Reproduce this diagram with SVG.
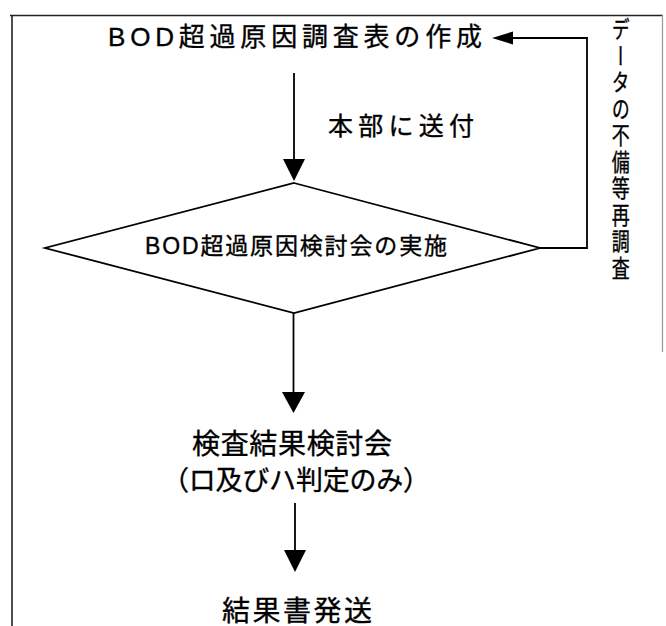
<svg xmlns="http://www.w3.org/2000/svg" width="666" height="626" viewBox="0 0 666 626">
<style>
  text { font-family: "Liberation Sans", "Noto Sans CJK JP", sans-serif; fill: #000; stroke: #000; stroke-width: 0.35; }
  .ln { stroke: #000; stroke-width: 1.8; fill: none; }
  .ah { fill: #000; stroke: none; }
  .frame { stroke: #222; stroke-width: 1.6; fill: none; }
</style>
<rect width="666" height="626" fill="#fff"/>
<g id="frame">
  <line class="frame" x1="10" y1="15.5" x2="663" y2="15.5"/>
  <line class="frame" x1="12" y1="15" x2="12" y2="626"/>
  <line x1="662.5" y1="15" x2="662.5" y2="352" stroke="#999" stroke-width="1.2"/>
</g>
<g id="connectors">
  <line class="ln" x1="294" y1="73" x2="294" y2="160"/>
  <polygon class="ah" points="283,159 305,159 294,181"/>
  <polyline class="ln" points="540,248 587,248 587,38 512,38"/>
  <polygon class="ah" points="513,31.5 513,44.5 492,38"/>
  <line class="ln" x1="293.5" y1="313" x2="293.5" y2="393"/>
  <polygon class="ah" points="282,392 305,392 293.5,413"/>
  <line class="ln" x1="295" y1="503" x2="295" y2="551"/>
  <polygon class="ah" points="284,550 306,550 295,572"/>
</g>
<g id="node-create">
  <text x="108" y="46" font-size="26" textLength="374" lengthAdjust="spacing">BOD超過原因調査表の作成</text>
</g>
<g id="label-send">
  <text x="328" y="135" font-size="25" textLength="146" lengthAdjust="spacing">本部に送付</text>
</g>
<g id="node-review">
  <polygon class="ln" points="294,183 540,248 294,313 45,248"/>
  <text x="145" y="254" font-size="23" textLength="302" lengthAdjust="spacing">BOD超過原因検討会の実施</text>
</g>
<g id="label-recheck">
  <text transform="translate(619,17) scale(0.75,1)" style="writing-mode: vertical-rl" font-size="24" letter-spacing="2.5">データの不備等再調査</text>
</g>
<g id="node-result-review">
  <text x="192" y="454" font-size="28" textLength="200" lengthAdjust="spacing">検査結果検討会</text>
  <text x="162" y="490" font-size="27" textLength="268" lengthAdjust="spacing">（ロ及びハ判定のみ）</text>
</g>
<g id="node-send">
  <text x="222" y="621" font-size="28" textLength="150" lengthAdjust="spacing">結果書発送</text>
</g>
</svg>
